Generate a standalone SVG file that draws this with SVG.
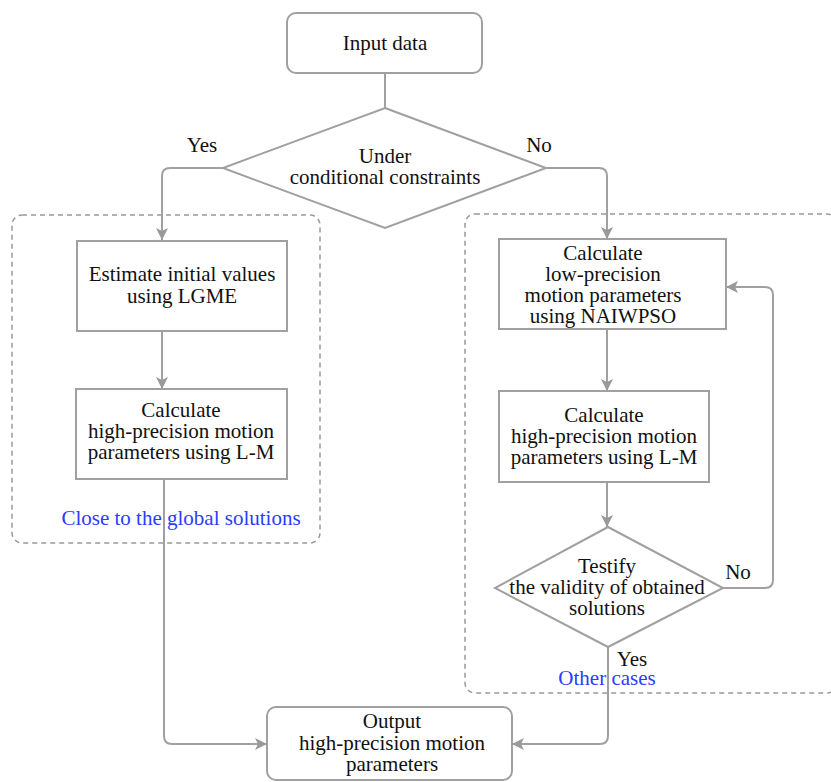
<svg xmlns="http://www.w3.org/2000/svg" width="831" height="782" viewBox="0 0 831 782">
<defs>
<style>
text{font-family:'Liberation Serif','Times New Roman','DejaVu Serif',serif;font-size:21px;fill:#111;text-anchor:middle}
.b{fill:#2b3cff}
.n{fill:#fff;stroke:#a0a0a0;stroke-width:2}
.c{fill:none;stroke:#a0a0a0;stroke-width:2}
.g{fill:none;stroke:#999;stroke-width:1.5;stroke-dasharray:5 4}
</style>
<marker id="ah" markerUnits="userSpaceOnUse" markerWidth="14" markerHeight="14" refX="12" refY="6" orient="auto">
<path d="M0,0 L12,6 L0,12 L3,6 z" fill="#999"/>
</marker>
</defs>
<rect width="831" height="782" fill="#fff"/>
<g id="groups" font-family="Liberation Serif, serif">
<rect class="g" x="12" y="215" width="308" height="328" rx="10"/>
<rect class="g" x="465" y="214" width="372" height="479" rx="10"/>
<text class="b" x="181" y="525">Close to the global solutions</text>
<text class="b" x="607" y="685">Other cases</text>
</g>
<g id="connectors" font-family="Liberation Serif, serif">
<path class="c" d="M385,73 V108"/>
<path class="c" d="M223,168 H170 Q162,168 162,176 V240" marker-end="url(#ah)"/>
<path class="c" d="M546,168 H599 Q607,168 607,176 V239" marker-end="url(#ah)"/>
<path class="c" d="M162,331 V389" marker-end="url(#ah)"/>
<path class="c" d="M164,479 V736 Q164,744 172,744 H267" marker-end="url(#ah)"/>
<path class="c" d="M607,329 V391" marker-end="url(#ah)"/>
<path class="c" d="M607,482 V527" marker-end="url(#ah)"/>
<path class="c" d="M723,588 H765 Q773,588 773,580 V295 Q773,287 765,287 H726" marker-end="url(#ah)"/>
<path class="c" d="M608,647 V736 Q608,744 600,744 H512" marker-end="url(#ah)"/>
<text x="202" y="152">Yes</text>
<text x="539" y="152">No</text>
<text x="738" y="579">No</text>
<text x="632" y="666">Yes</text>
</g>
<g id="input">
<rect class="n" x="287" y="13" width="195" height="60" rx="9"/>
<text x="385" y="50">Input data</text>
</g>
<g id="cond">
<polygon class="n" points="385,108 546,168 385,228 223,168"/>
<text x="385" y="163">Under</text>
<text x="385" y="184">conditional constraints</text>
</g>
<g id="lgme">
<rect class="n" x="77" y="241" width="210" height="90"/>
<text x="182" y="281">Estimate initial values</text>
<text x="182" y="303">using LGME</text>
</g>
<g id="lm-left">
<rect class="n" x="76" y="389" width="211" height="90"/>
<text x="181" y="417">Calculate</text>
<text x="181" y="438">high-precision motion</text>
<text x="181" y="459">parameters using L-M</text>
</g>
<g id="naiwpso">
<rect class="n" x="499" y="239" width="227" height="90"/>
<text x="603" y="260">Calculate</text>
<text x="603" y="281">low-precision</text>
<text x="603" y="302">motion parameters</text>
<text x="603" y="323">using NAIWPSO</text>
</g>
<g id="lm-right">
<rect class="n" x="499" y="391" width="210" height="91"/>
<text x="604" y="422">Calculate</text>
<text x="604" y="443">high-precision motion</text>
<text x="604" y="464">parameters using L-M</text>
</g>
<g id="testify">
<polygon class="n" points="608,527 723,588 608,647 495,588"/>
<text x="607" y="573">Testify</text>
<text x="607" y="594">the validity of obtained</text>
<text x="607" y="615">solutions</text>
</g>
<g id="output">
<rect class="n" x="267" y="707" width="245" height="73" rx="9"/>
<text x="392" y="728">Output</text>
<text x="392" y="750">high-precision motion</text>
<text x="392" y="771">parameters</text>
</g>
</svg>
